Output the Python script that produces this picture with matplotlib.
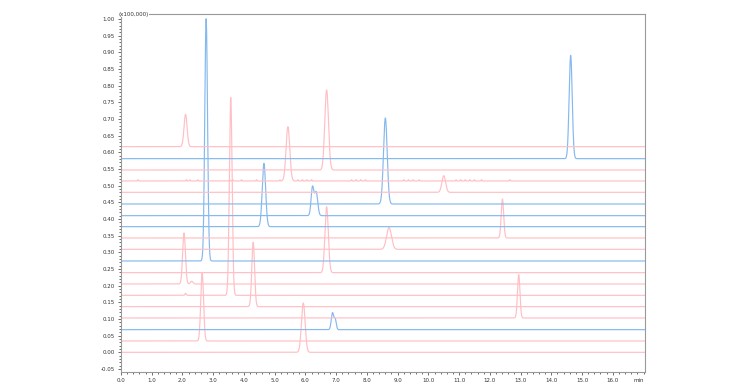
import matplotlib.pyplot as plt
import numpy as np
from matplotlib.ticker import MultipleLocator, FixedLocator, FormatStrFormatter

# baseline of each stacked trace (x100,000), bottom to top
trace_offsets = [0.000, 0.034, 0.068, 0.103, 0.137, 0.171, 0.205, 0.239, 0.274, 0.309,
                 0.343, 0.377, 0.410, 0.445, 0.480, 0.514, 0.547, 0.581, 0.617]

# peak table: trace index, retention time (min), height, width (sigma, min)
peak_trace = [0, 1, 2, 2, 3, 4, 5, 5, 6, 6, 7, 8, 9, 10, 11, 12, 12, 13, 14, 15, 16, 17, 18]
peak_rt = [5.93, 2.64, 6.88, 6.97, 12.94, 4.30, 3.57, 2.10, 2.05, 2.30, 6.69, 2.77, 8.72,
           12.41, 4.65, 6.23, 6.35, 8.60, 10.50, 5.43, 6.69, 14.63, 2.10]
peak_height = [0.148, 0.204, 0.050, 0.030, 0.130, 0.193, 0.593, 0.006, 0.153, 0.008, 0.198,
               0.727, 0.065, 0.117, 0.190, 0.085, 0.070, 0.258, 0.050, 0.163, 0.240, 0.310, 0.097]
peak_sigma = [0.060, 0.045, 0.040, 0.035, 0.040, 0.045, 0.045, 0.020, 0.045, 0.040, 0.055,
              0.045, 0.080, 0.040, 0.055, 0.045, 0.050, 0.060, 0.060, 0.060, 0.060, 0.050, 0.050]

# small noise spikes on the trace at 0.514
spike_trace = 15
spike_rt = [0.55, 2.13, 2.24, 2.50, 3.54, 3.64, 3.92, 4.41, 5.17, 5.75, 5.90, 6.05, 6.20,
            7.50, 7.65, 7.80, 7.95, 9.20, 9.35, 9.50, 9.70, 10.90, 11.05, 11.20, 11.35,
            11.50, 11.73, 12.65]
spike_height = 0.004

x_ticks = [0.0, 1.0, 2.0, 3.0, 4.0, 5.0, 6.0, 7.0, 8.0, 9.0, 10.0, 11.0, 12.0, 13.0,
           14.0, 15.0, 16.0]

blue_traces = [2, 8, 11, 12, 13, 17]

t = np.linspace(0, 17.05, 6000)

fig = plt.figure(figsize=(7.54, 3.87), dpi=100)
ax = fig.add_axes([0.1605, 0.0388, 0.695, 0.925])

for i, base in enumerate(trace_offsets):
    y = np.full_like(t, base)
    for tr, rt, h, s in zip(peak_trace, peak_rt, peak_height, peak_sigma):
        if tr == i:
            y += h * np.exp(-0.5 * ((t - rt) / s) ** 2)
    if i == spike_trace:
        for rt in spike_rt:
            y += spike_height * np.exp(-0.5 * ((t - rt) / 0.012) ** 2)
    color = '#85b9ee' if i in blue_traces else '#ffbfc4'
    ax.plot(t, y, color=color, lw=0.85, solid_joinstyle='round')

ax.set_xlim(0, 17.05)
ax.set_ylim(-0.059, 1.015)

ax.xaxis.set_major_locator(FixedLocator(x_ticks))
ax.xaxis.set_minor_locator(MultipleLocator(0.2))
ax.xaxis.set_major_formatter(FormatStrFormatter('%.1f'))
ax.yaxis.set_major_locator(MultipleLocator(0.05))
ax.yaxis.set_minor_locator(MultipleLocator(0.01))
ax.yaxis.set_major_formatter(FormatStrFormatter('%.2f'))

ax.tick_params(which='both', direction='out', colors='#555555', labelcolor='#333333',
               labelsize=4, width=0.6)
ax.tick_params(which='major', length=2.5, pad=2)
ax.tick_params(which='minor', length=1.5)

for side in ['left', 'bottom', 'right', 'top']:
    ax.spines[side].set_color('#999999')
    ax.spines[side].set_linewidth(0.8)

ax.text(-0.005, 1.0, '(x100,000)', transform=ax.transAxes, fontsize=4, color='#333333',
        ha='left', va='center', bbox=dict(facecolor='white', edgecolor='none', pad=0.5))
ax.text(0.998, -0.016, 'min', transform=ax.transAxes, fontsize=4, color='#333333',
        ha='right', va='top')

plt.savefig("out.png", dpi=100)
